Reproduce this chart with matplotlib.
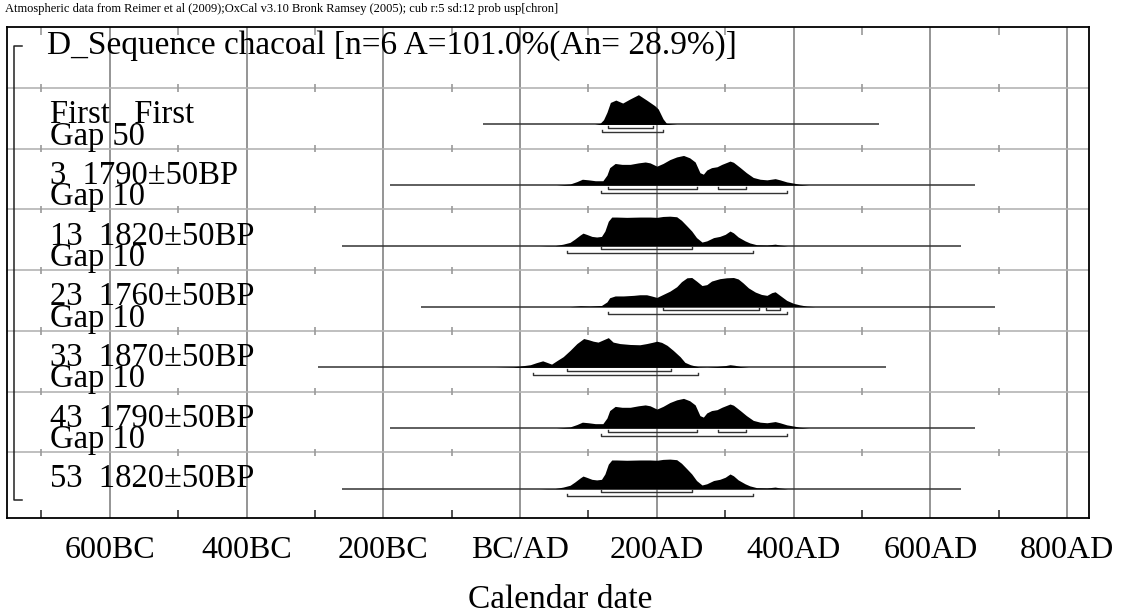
import matplotlib
matplotlib.use("Agg")
import matplotlib.pyplot as plt
import numpy as np

plt.rcParams["font.family"] = ["Liberation Serif", "DejaVu Serif"]

# ---- data (calendar years, relative probability) ----
tick_years = [-600, -400, -200, 0, 200, 400, 600, 800]
tick_labels = ["600BC", "400BC", "200BC", "BC/AD", "200AD", "400AD", "600AD", "800AD"]
minor_years = [-700, -500, -300, -100, 100, 300, 500, 700]

header = "Atmospheric data from Reimer et al (2009);OxCal v3.10 Bronk Ramsey (2005); cub r:5 sd:12 prob usp[chron]"
title = "D_Sequence chacoal [n=6 A=101.0%(An= 28.9%)]"

row_names = ["First   First", "3  1790\u00b150BP", "13  1820\u00b150BP", "23  1760\u00b150BP",
             "33  1870\u00b150BP", "43  1790\u00b150BP", "53  1820\u00b150BP"]
row_gaps = ["Gap 50", "Gap 10", "Gap 10", "Gap 10", "Gap 10", "Gap 10", ""]

first_years = [109, 117, 122, 127, 132, 140, 150, 161, 173, 185, 197, 202, 209, 214, 229]
first_dens = [0, .04, .16, .41, .74, .82, .72, .86, 1.0, .82, .63, .52, .19, .04, 0]
first_span = (-55, 525)
first_68 = [(129, 195)]
first_95 = [(120, 209)]

d1790_years = [53, 73, 83, 91, 100, 110, 121, 127, 131, 139, 149, 161, 173, 183, 190, 200, 209,
               219, 229, 239, 248, 256, 263, 268, 273, 280, 288, 295, 307, 312, 322, 331, 341,
               351, 361, 373, 380, 390, 400, 409, 422]
d1790_dens = [0, .04, .12, .2, .18, .15, .15, .34, .59, .73, .70, .70, .75, .78, .75, .64, .73,
              .86, .95, 1.0, .92, .78, .42, .37, .51, .59, .62, .70, .81, .77, .59, .42, .26,
              .2, .18, .22, .18, .11, .07, .03, 0]
d1790_span = (-190, 665)
d1790_68 = [(129, 259), (290, 330)]
d1790_95 = [(119, 390)]

d1820_years = [28, 39, 51, 63, 73, 80, 88, 92, 97, 105, 112, 119, 124, 129, 134, 141, 156, 175,
               190, 200, 209, 219, 229, 236, 244, 251, 258, 266, 273, 283, 292, 300, 307, 312,
               319, 329, 336, 346, 361, 373, 380, 391]
d1820_dens = [0, .01, .01, .06, .12, .23, .37, .43, .39, .32, .3, .32, .5, .83, .97, .97, .96, .97,
              .97, .96, .99, 1.0, .98, .86, .67, .5, .28, .13, .17, .28, .32, .39, .5, .44,
              .3, .17, .1, .04, .03, .06, .03, 0]
d1820_span = (-260, 645)
d1820_68 = [(119, 251)]
d1820_95 = [(69, 340)]

d1760_years = [73, 88, 102, 119, 127, 131, 139, 151, 166, 175, 185, 192, 200, 209, 219, 229, 236,
               244, 251, 258, 266, 273, 280, 292, 302, 312, 319, 326, 334, 344, 353, 361, 368,
               373, 380, 390, 400, 409, 419, 431]
d1760_dens = [0, .03, .02, .04, .16, .3, .36, .36, .38, .4, .4, .36, .31, .41, .52, .67, .84,
              .97, .98, .86, .71, .74, .86, .94, .97, .98, .93, .8, .63, .49, .41, .38, .47,
              .5, .38, .21, .11, .06, .02, 0]
d1760_span = (-145, 695)
d1760_68 = [(209, 350), (359, 380)]
d1760_95 = [(129, 390)]

d1870_years = [-37, -10, 2, 15, 24, 33, 39, 46, 54, 63, 73, 83, 93, 100, 107, 114, 122, 129, 136,
               146, 161, 175, 185, 193, 200, 207, 215, 224, 234, 241, 249, 261, 273, 288, 300,
               307, 314, 322, 334]
d1870_dens = [0, .02, .05, .09, .16, .22, .17, .11, .23, .36, .57, .8, .97, .93, .88, .85, .93,
              1.0, .85, .8, .77, .76, .8, .84, .88, .84, .74, .57, .36, .17, .09, .02, .01, .03,
              .06, .09, .07, .03, 0]
d1870_span = (-295, 535)
d1870_68 = [(69, 220)]
d1870_95 = [(19, 260)]

rows = [
    (first_years, first_dens, first_span, first_68, first_95),
    (d1790_years, d1790_dens, d1790_span, d1790_68, d1790_95),
    (d1820_years, d1820_dens, d1820_span, d1820_68, d1820_95),
    (d1760_years, d1760_dens, d1760_span, d1760_68, d1760_95),
    (d1870_years, d1870_dens, d1870_span, d1870_68, d1870_95),
    (d1790_years, d1790_dens, d1790_span, d1790_68, d1790_95),
    (d1820_years, d1820_dens, d1820_span, d1820_68, d1820_95),
]

# ---- layout (y runs in row units, 0 = top border, downwards) ----
W, H = 1123, 616
left_px, right_px, top_px, bot_px = 7.3, 1089, 27.3, 518
x_min, x_max = -750, 832
y_max = 8.08
label_x = -688
peak_h = 0.49
base_off = 0.60

fig = plt.figure(figsize=(W / 100, H / 100), dpi=100)
ax = fig.add_axes([left_px / W, 1 - bot_px / H, (right_px - left_px) / W, (bot_px - top_px) / H])
ax.set_xlim(x_min, x_max)
ax.set_ylim(y_max, 0)

# grid
for yr in tick_years:
    ax.axvline(yr, color="#8c8c8c", lw=1.3, zorder=1)
for k in range(1, 8):
    ax.axhline(k, color="#b4b4b4", lw=1.2, zorder=1)
    ax.vlines(minor_years, k - 0.06, k + 0.06, color="#9a9a9a", lw=1.2, zorder=1)
ax.vlines(minor_years, 0, 0.12, color="#9a9a9a", lw=1.2, zorder=1)
ax.vlines(minor_years, y_max - 0.13, y_max, color="#333333", lw=1.2, zorder=1)

# sequence bracket on the left
ax.plot([-729, -740, -740, -728], [0.30, 0.30, 7.79, 7.79], color="#222222", lw=1.1, zorder=2)

ax.text(-692, 0.44, title, fontsize=24, va="baseline", ha="left", zorder=3)

for i, (yrs, dens, span, r68, r95) in enumerate(rows):
    k = i + 1
    base = k + base_off
    ax.hlines(base, span[0], span[1], color="#333333", lw=1.1, zorder=2)
    ax.fill_between(yrs, base, base - np.array(dens) * peak_h, color="black", lw=0, zorder=3)
    for lo, hi in r68:
        yb = base + 0.058
        ax.plot([lo, lo, hi, hi], [yb - 0.035, yb, yb, yb - 0.035], color="#333333", lw=1, zorder=2)
    for lo, hi in r95:
        yb = base + 0.124
        ax.plot([lo, lo, hi, hi], [yb - 0.035, yb, yb, yb - 0.035], color="#333333", lw=1, zorder=2)
    ax.text(label_x, k + 0.577, row_names[i], fontsize=23.5, va="baseline", ha="left", zorder=3)
    if row_gaps[i]:
        ax.text(label_x, k + 0.93, row_gaps[i], fontsize=23.5, va="baseline", ha="left", zorder=3)

ax.set_xticks(tick_years)
ax.set_xticklabels(tick_labels, fontsize=23)
ax.tick_params(axis="x", length=0, pad=13)
ax.set_yticks([])
for sp in ax.spines.values():
    sp.set_color("black")
    sp.set_linewidth(1.3)

fig.text(5 / W, 1 - 9 / H, header, fontsize=9, va="center", ha="left")
fig.text(560 / W, 1 - 600 / H, "Calendar date", fontsize=24, va="center", ha="center")

fig.savefig("out.png", dpi=100)
